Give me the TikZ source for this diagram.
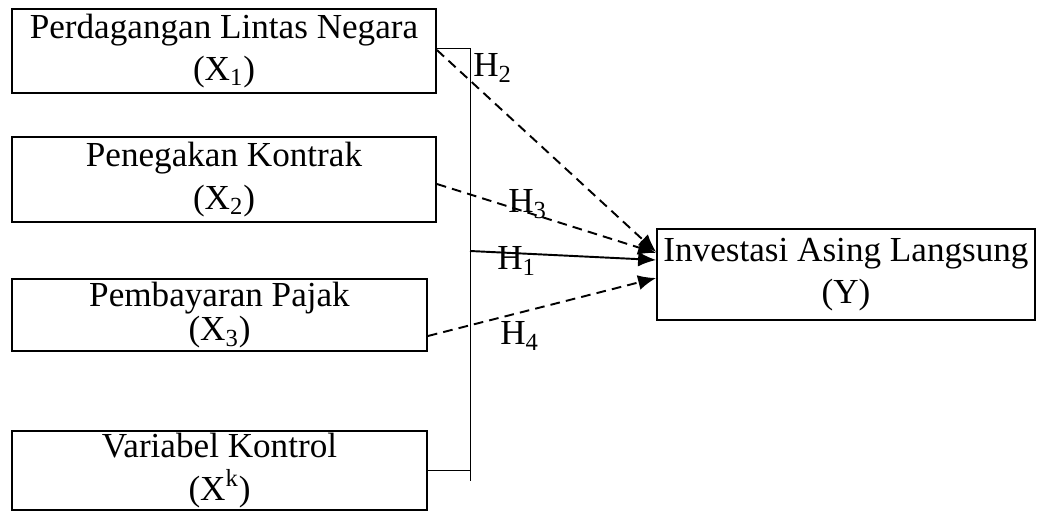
\documentclass[tikz,border=0pt]{standalone}
\usepackage{fontspec}
\setmainfont{Liberation Serif}
\usepackage{tikz}
\usetikzlibrary{arrows.meta}
\usetikzlibrary{calc}

\tikzset{
  varbox/.style={draw, line width=1pt, inner sep=0pt, align=center,
    font=\fontsize{20}{24}\selectfont},
  hyp/.style={-{Latex[length=0.36cm,width=0.30cm]}, line width=1.1pt},
  hypdash/.style={hyp, dash pattern=on 5.5pt off 3.5pt},
  hlabel/.style={anchor=base west, inner sep=0pt, font=\fontsize{20}{24}\selectfont},
  bracket/.style={line width=0.5pt}
}

\begin{document}
\begin{tikzpicture}
  \path[use as bounding box] (0, 0) rectangle (20.74, 10.22);

  \node[varbox, minimum width=8.48cm, minimum height=1.68cm] (x1) at (4.48, 9.20)
    {Perdagangan Lintas Negara\\(X\textsubscript{1})};
  \node[varbox, minimum width=8.48cm, minimum height=1.70cm] (x2) at (4.48, 6.63)
    {Penegakan Kontrak\\(X\textsubscript{2})};
  \node[varbox, minimum width=8.30cm, minimum height=1.44cm,
        font=\fontsize{20}{19.5}\selectfont] (x3) at (4.39, 3.92)
    {Pembayaran Pajak\\(X\textsubscript{3})};
  \node[varbox, minimum width=8.30cm, minimum height=1.58cm] (x4) at (4.39, 0.81)
    {Variabel Kontrol\\(X\textsuperscript{k})};
  \node[varbox, minimum width=7.56cm, minimum height=1.82cm] (inv) at (16.92, 4.73)
    {Investasi Asing Langsung\\(Y)};

  % bracket joining X1 ... Xk
  \coordinate (bt) at (9.40, 9.26);
  \coordinate (bb) at (9.40, 0.60);
  \coordinate (h1s) at (9.40, 5.20);
  \draw[bracket] (x1.east |- bt) -- (bt) -- (bb);
  \draw[bracket] (x4.east) -- (x4.east -| bt);

  \draw[hypdash] ($(x1.east)+(0,0.02)$) -- ($(inv.west)+(0,0.45)$);
  \draw[hypdash] ($(x2.east)+(0,-0.09)$) -- ($(inv.west)+(0,0.43)$);
  \draw[hyp] (h1s) -- ($(inv.west)+(0,0.29)$);
  \draw[hypdash] ($(x3.east)+(0,-0.42)$) -- ($(inv.west)+(0,-0.07)$);

  \node[hlabel] (h2) at (9.46, 8.68) {H\textsubscript{2}};
  \node[hlabel] (h3) at (10.16, 5.96) {H\textsubscript{3}};
  \node[hlabel] (h1) at (9.94, 4.82) {H\textsubscript{1}};
  \node[hlabel] (h4) at (10.00, 3.32) {H\textsubscript{4}};
\end{tikzpicture}
\end{document}
